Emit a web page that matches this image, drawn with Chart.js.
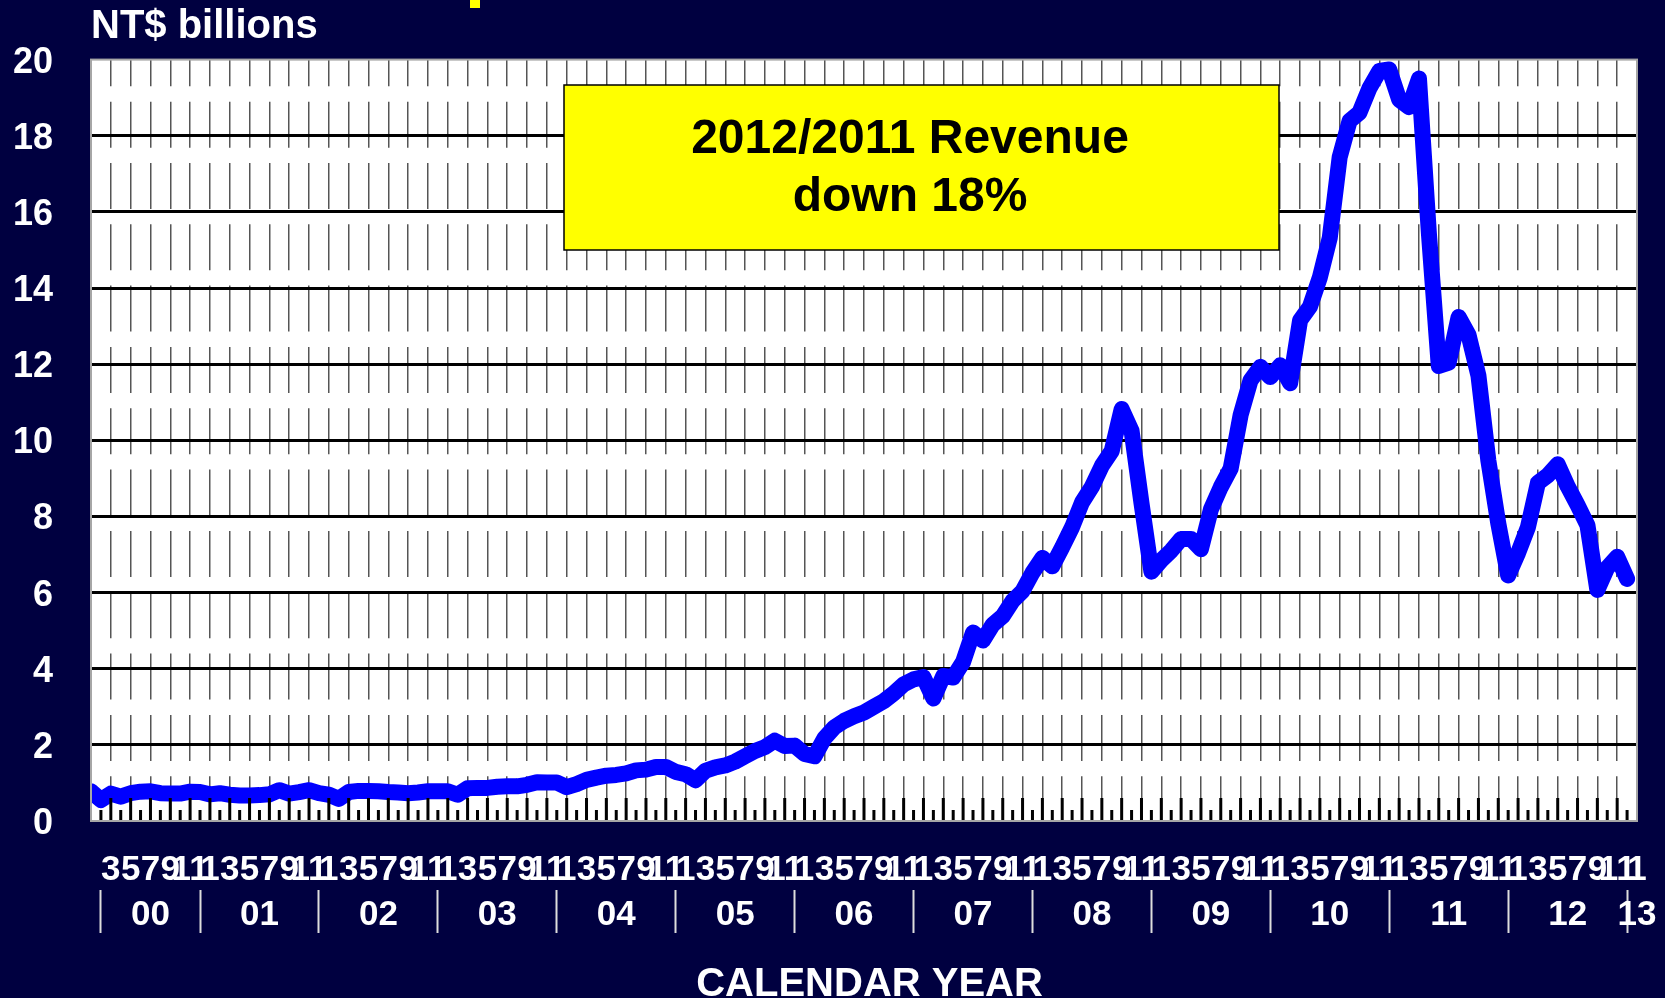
<!doctype html>
<html lang="en">
  <head>
    <meta charset="utf-8">
    <title>Monthly Revenue</title>
    <style>
      body { margin: 0; background: #000040; }
      canvas { display: block; }
    </style>
  </head>
  <body>
    <canvas id="revenueChart" width="1665" height="998"></canvas>

    <script src="https://cdn.jsdelivr.net/npm/chart.js/dist/chart.umd.min.js"></script>
    <script>
    // monthly revenue, NT$ billions, Jan 2000 .. Dec 2012
    const revenue = [
      0.78, 0.55, 0.72, 0.64, 0.73, 0.77, 0.78, 0.73, 0.72, 0.72, 0.77, 0.76,
      0.70, 0.73, 0.69, 0.67, 0.67, 0.68, 0.70, 0.81, 0.72, 0.76, 0.81, 0.73,
      0.69, 0.58, 0.76, 0.79, 0.79, 0.78, 0.76, 0.75, 0.73, 0.75, 0.78, 0.78,
      0.78, 0.69, 0.86, 0.87, 0.87, 0.90, 0.91, 0.91, 0.95, 1.02, 1.01, 1.01,
      0.89, 0.97, 1.08, 1.14, 1.19, 1.21, 1.25, 1.33, 1.35, 1.42, 1.42, 1.29,
      1.23, 1.07, 1.32, 1.41, 1.46, 1.56, 1.70, 1.84, 1.94, 2.11, 1.97, 1.98,
      1.76, 1.70, 2.17, 2.46, 2.63, 2.75, 2.85, 3.00, 3.15, 3.35, 3.59, 3.72,
      3.78, 3.22, 3.81, 3.77, 4.18, 4.95, 4.74, 5.16, 5.38, 5.78, 6.04, 6.52,
      6.91, 6.69, 7.19, 7.72, 8.37, 8.78, 9.33, 9.72, 10.82, 10.25, 8.35, 6.55,
      6.85, 7.10, 7.41, 7.41, 7.14, 8.18, 8.77, 9.26, 10.66, 11.57, 11.93, 11.66,
      11.97, 11.50, 13.15, 13.51, 14.28, 15.32, 17.44, 18.39, 18.61, 19.25, 19.70, 19.74,
      18.95, 18.75, 19.50, 15.44, 11.95, 12.04, 13.24, 12.77, 11.70, 9.47, 7.82, 6.45,
      7.04, 7.72, 8.88, 9.08, 9.37, 8.79, 8.30, 7.77, 6.07, 6.65, 6.94, 6.36
    ];

    // axis runs Jan 2000 .. Jan 2013, odd months labelled
    const monthTicks = ['1', '', '3', '', '5', '', '7', '', '9', '', '11', ''];
    const monthCount = 157;

    // second row of the x axis: years and the little separators between them
    const yearLabels = ['00', '01', '02', '03', '04', '05', '06', '07', '08', '09', '10', '11', '12', '13'];
    const yearLabelAt = [6, 17, 29, 41, 53, 65, 77, 89, 101, 113, 125, 137, 149, 156];
    const yearSeparatorAt = [1, 11, 23, 35, 47, 59, 71, 83, 95, 107, 119, 131, 143, 155];

    const boxLines = ['2012/2011 Revenue', 'down 18%'];

    const months = [];
    for (let i = 0; i < monthCount; i++) {
      // first month has no label on the original
      months.push(i === 0 ? '' : monthTicks[i % 12]);
    }

    const font = "'Liberation Sans', Arial, sans-serif";
    Chart.defaults.font.family = font;
    Chart.defaults.font.weight = 'bold';

    const overlay = {
      id: 'overlay',
      beforeDraw(chart) {
        const {ctx, chartArea: a} = chart;
        ctx.save();
        ctx.fillStyle = '#ffffff';
        ctx.fillRect(a.left, a.top, a.width, a.height);
        // bit of the cut off slide title
        ctx.fillStyle = '#ffff00';
        ctx.fillRect(470, 0, 10, 8);
        ctx.restore();
      },
      afterDatasetsDraw(chart) {
        const {ctx, chartArea: a} = chart;
        const x = chart.scales.x;
        ctx.save();

        // tick marks standing up from the bottom of the plot
        ctx.strokeStyle = '#000';
        ctx.lineWidth = 3;
        ctx.beginPath();
        for (let i = 1; i < x.ticks.length - 1; i++) {
          const px = x.getPixelForTick(i);
          ctx.moveTo(px, a.bottom);
          ctx.lineTo(px, a.bottom - (i % 2 ? 11 : 23));
        }
        ctx.stroke();

        ctx.strokeStyle = '#a6a6a6';
        ctx.lineWidth = 2;
        ctx.strokeRect(a.left, a.top, a.width, a.height);

        // yellow call-out box
        ctx.fillStyle = '#ffff00';
        ctx.fillRect(564, 85, 715, 165);
        ctx.strokeStyle = '#000';
        ctx.lineWidth = 1.5;
        ctx.strokeRect(564, 85, 715, 165);
        ctx.fillStyle = '#000';
        ctx.font = 'bold 48px ' + font;
        ctx.textAlign = 'center';
        ctx.textBaseline = 'alphabetic';
        ctx.fillText(boxLines[0], 910, 153);
        ctx.fillText(boxLines[1], 910, 211);

        ctx.restore();
      }
    };

    new Chart(document.getElementById('revenueChart'), {
      type: 'line',
      data: {
        labels: months,
        datasets: [{
          label: 'Revenue',
          data: revenue,
          xAxisID: 'x',
          yAxisID: 'y',
          borderColor: '#0000ff',
          borderWidth: 16,
          borderJoinStyle: 'round',
          borderCapStyle: 'round',
          pointRadius: 0,
          tension: 0,
          clip: 0
        }]
      },
      options: {
        responsive: false,
        animation: false,
        devicePixelRatio: 1,
        layout: { padding: { top: 0, right: 28, bottom: 0, left: 0 } },
        plugins: {
          legend: { display: false },
          tooltip: { enabled: false },
          title: {
            display: true,
            text: 'NT$ billions',
            align: 'start',
            fullSize: false,
            color: '#ffffff',
            font: { size: 40, weight: 'bold' },
            padding: { top: 1, bottom: 9 }
          }
        },
        scales: {
          x: {
            type: 'category',
            position: 'bottom',
            weight: 0,
            offset: false,
            border: { display: false, dash: [46, 15.33], dashOffset: 19.3 },
            grid: {
              drawTicks: false,
              color: '#555555',
              lineWidth: ctx => (ctx.index % 2 === 0 && ctx.index > 0 && ctx.index < monthCount - 1) ? 1.5 : 0
            },
            ticks: {
              autoSkip: false,
              maxRotation: 0,
              minRotation: 0,
              color: '#ffffff',
              // tall line height instead of padding keeps the right edge where it is
              font: { size: 35, weight: 'bold', lineHeight: '99px' },
              padding: 0
            },
            afterFit: s => { s.height = 69; }
          },
          year: {
            type: 'category',
            position: 'bottom',
            weight: 1,
            offset: false,
            border: { display: false },
            grid: {
              drawOnChartArea: false,
              tickLength: 43,
              tickWidth: 2,
              tickColor: ctx => yearSeparatorAt.includes(ctx.index) ? '#dddddd' : 'rgba(0,0,0,0)'
            },
            ticks: {
              autoSkip: false,
              maxRotation: 0,
              minRotation: 0,
              color: '#ffffff',
              font: { size: 35, weight: 'bold' },
              padding: -38.5,
              callback: (value, index) => {
                const n = yearLabelAt.indexOf(index);
                return n < 0 ? '' : yearLabels[n];
              }
            },
            title: {
              display: true,
              // leading space nudges it right, as on the original
              text: ' CALENDAR YEAR',
              color: '#ffffff',
              font: { size: 40, weight: 'bold' },
              padding: { top: 0, bottom: -11 }
            },
            afterFit: s => { s.height = 108; }
          },
          y: {
            min: 0,
            max: 20,
            border: { display: false },
            grid: {
              drawTicks: false,
              color: '#000000',
              lineWidth: ctx => (ctx.tick.value > 0 && ctx.tick.value < 20) ? 3 : 0
            },
            ticks: {
              stepSize: 2,
              color: '#ffffff',
              font: { size: 36, weight: 'bold' },
              padding: 38,
              labelOffset: 3
            },
            afterFit: s => { s.width = 91; }
          }
        }
      },
      plugins: [overlay]
    });
    </script>
  </body>
</html>
